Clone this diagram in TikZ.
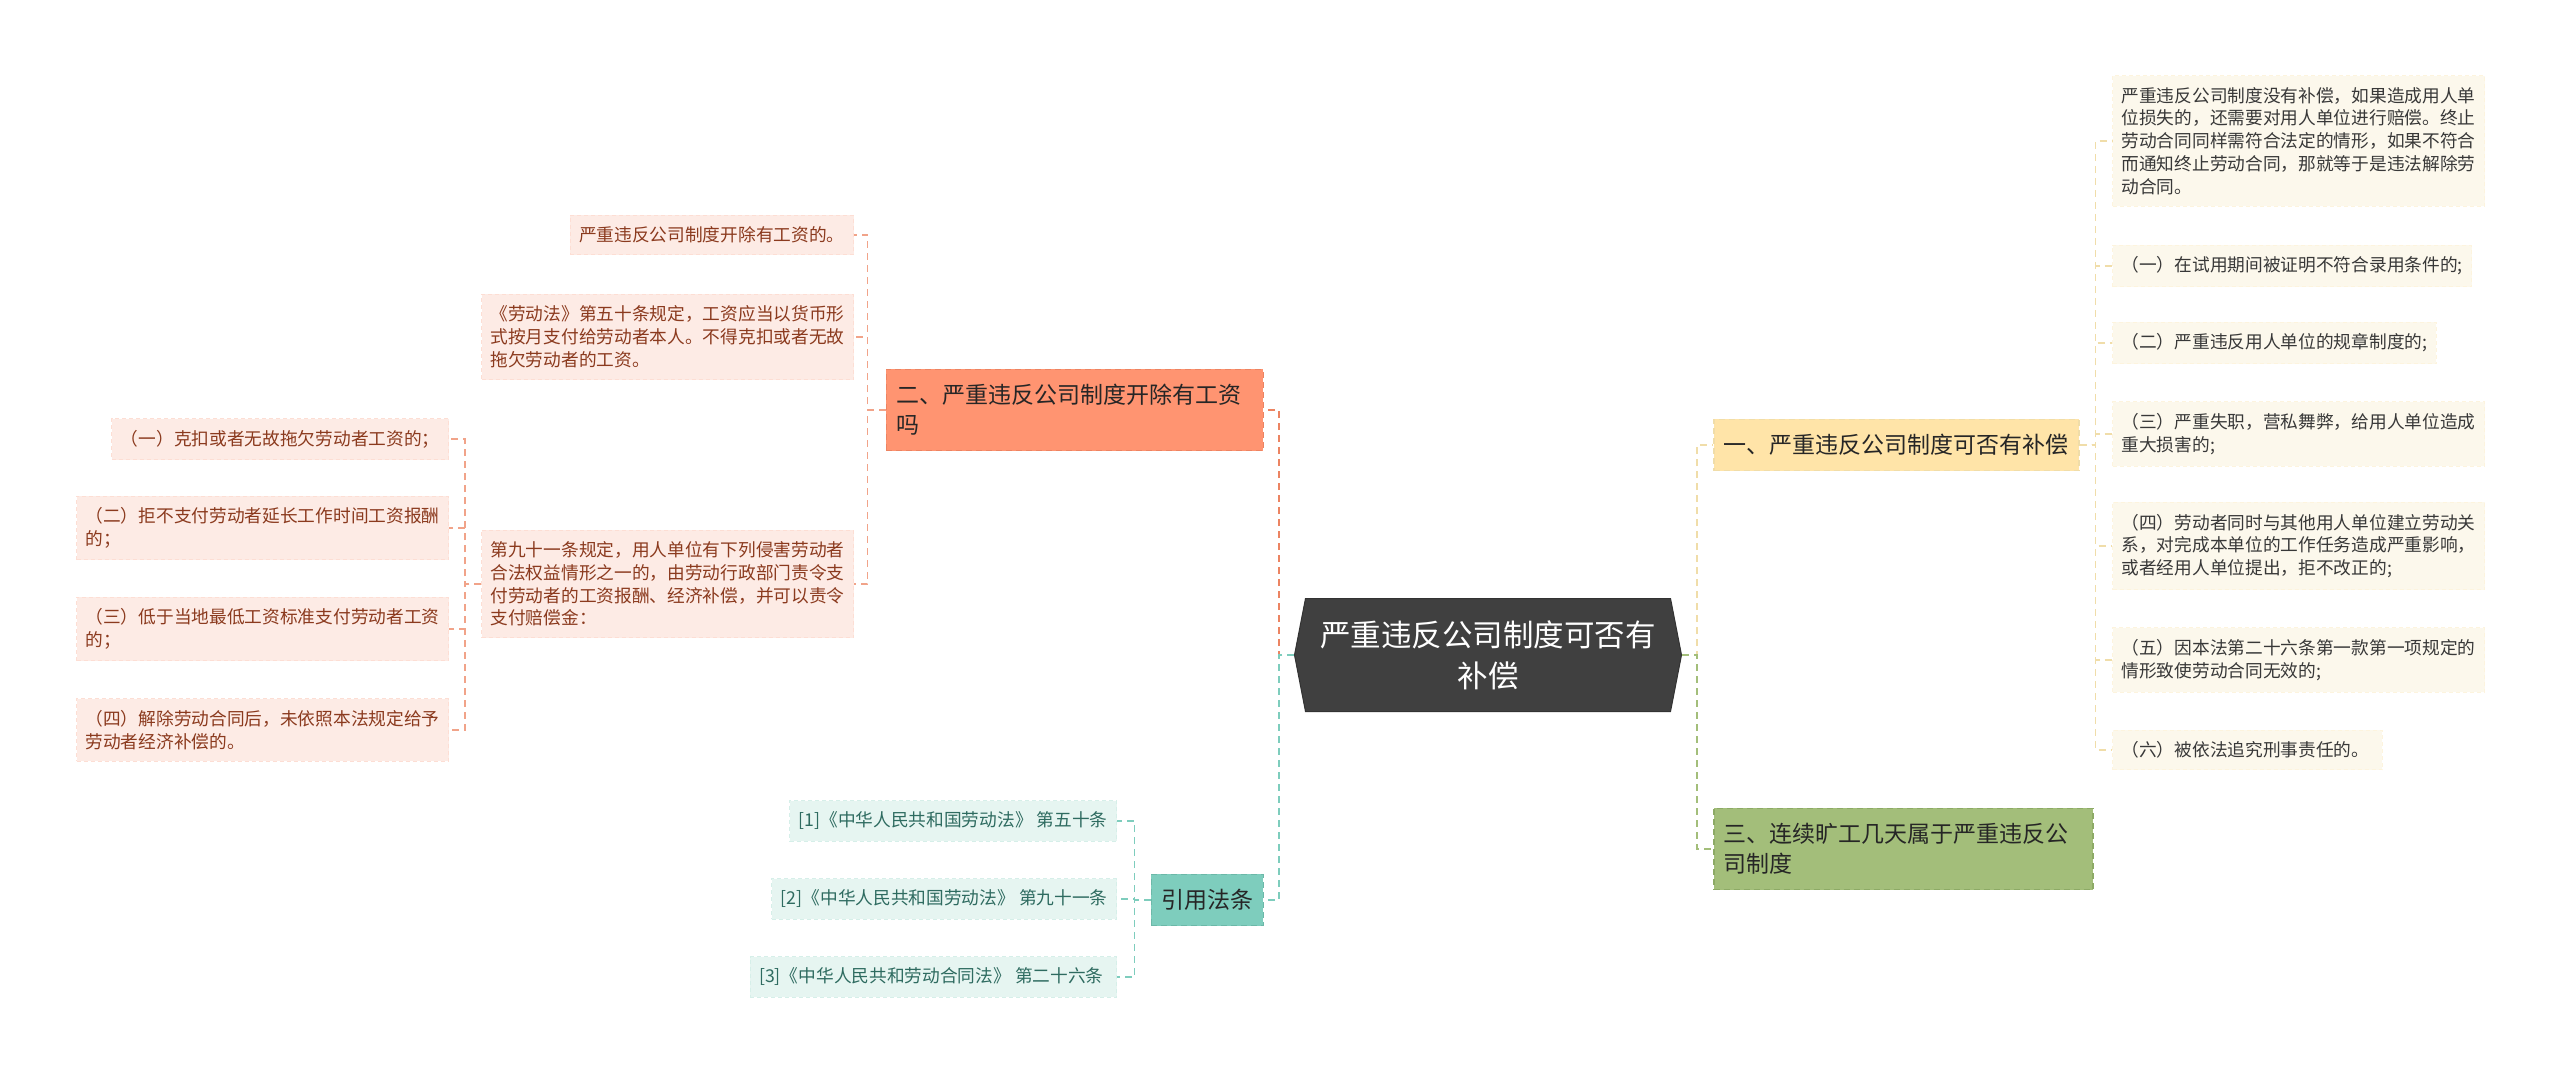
\documentclass[tikz,border=0pt]{standalone}
\usepackage{fontspec}
\setmainfont{Noto Sans CJK SC}
\usetikzlibrary{shapes.symbols}

\definecolor{rootGray}{HTML}{404040}
\definecolor{wageFill}{HTML}{FF9471}
\definecolor{wageLine}{HTML}{EC8462}
\definecolor{wageLeaf}{HTML}{FDEBE5}
\definecolor{wageText}{HTML}{8B3A1E}
\definecolor{compFill}{HTML}{FFE4A8}
\definecolor{compLine}{HTML}{F0DDA9}
\definecolor{compLeaf}{HTML}{FCF8EC}
\definecolor{absFill}{HTML}{A3BE7A}
\definecolor{absLine}{HTML}{8DAA66}
\definecolor{lawFill}{HTML}{7ECDBD}
\definecolor{lawLine}{HTML}{6CB8A8}
\definecolor{lawLeaf}{HTML}{E6F5F1}
\definecolor{lawText}{HTML}{2E6B60}

\def\leafFont{\fontsize{17.7pt}{22.8pt}\selectfont}
\def\branchFont{\fontsize{23pt}{30pt}\selectfont}
\def\rootFont{\fontsize{30.5pt}{41pt}\selectfont}
\def\stub{16}

\begin{document}
\begin{tikzpicture}[
    x=1pt, y=-1pt,
    root/.style={
      signal, signal to=east and west, signal pointer angle=158,
      fill=rootGray, draw=black!80, line width=1pt, text=white,
      font=\rootFont, align=center, minimum width=387pt, minimum height=113pt
    },
    branch/.style={
      font=\branchFont, align=left, inner xsep=10pt, inner ysep=15pt,
      line width=1.5pt, dash pattern=on 6pt off 4pt, text=black!85
    },
    leaf/.style={
      font=\leafFont, align=left, inner xsep=9pt, inner ysep=11.5pt,
      line width=1pt, dash pattern=on 4pt off 3pt
    },
    link/.style={
      line width=1.5pt, dash pattern=on 7pt off 5pt
    }
  ]
    \useasboundingbox (0,0) rectangle (2560,1075);

    \node[root] (root) at (1488,655) {严重违反公司制度可否有\\补偿};

    \node[branch, fill=compFill, draw=compLine, anchor=west] (comp) at (1713,445) {一、严重违反公司制度可否有补偿};
    \node[branch, fill=absFill, draw=absLine, anchor=west, text width=359pt] (abs) at (1713,849) {三、连续旷工几天属于严重违反公\\司制度};
    \node[branch, fill=wageFill, draw=wageLine, anchor=east, text width=357pt] (wage) at (1264,410) {二、严重违反公司制度开除有工资\\吗};
    \node[branch, fill=lawFill, draw=lawLine, anchor=east] (law) at (1264,900) {引用法条};

    \draw[link, draw=wageLine] (root.west) -- ++(-15,0) |- (wage.east);
    \draw[link, draw=lawFill] (root.west) -- ++(-15,0) |- (law.east);
    \draw[link, draw=compLine] (root.east) -- ++(15,0) |- (comp.west);
    \draw[link, draw=absFill] (root.east) -- ++(15,0) |- (abs.west);

    \def\compLeaves{
      141/严重违反公司制度没有补偿，如果造成用人单\\位损失的，还需要对用人单位进行赔偿。终止\\劳动合同同样需符合法定的情形，如果不符合\\而通知终止劳动合同，那就等于是违法解除劳\\动合同。,
      266/（一）在试用期间被证明不符合录用条件的;,
      343/（二）严重违反用人单位的规章制度的;,
      434/（三）严重失职，营私舞弊，给用人单位造成\\重大损害的;,
      546/（四）劳动者同时与其他用人单位建立劳动关\\系，对完成本单位的工作任务造成严重影响，\\或者经用人单位提出，拒不改正的;,
      660/（五）因本法第二十六条第一款第一项规定的\\情形致使劳动合同无效的;,
      750/（六）被依法追究刑事责任的。
    }

    \foreach \y / \txt [count=\i] in \compLeaves {
      \node[leaf, fill=compLeaf, draw=compLeaf!80!compFill, text=black!78, anchor=west] (c\i) at (2112,\y) {\txt};
      \draw[link, line width=1.2pt, draw=compLine] (comp.east) -- ++(\stub,0) |- (c\i.west);
    }

    \def\wageLeaves{
      235/严重违反公司制度开除有工资的。,
      337/《劳动法》第五十条规定，工资应当以货币形\\式按月支付给劳动者本人。不得克扣或者无故\\拖欠劳动者的工资。,
      584/第九十一条规定，用人单位有下列侵害劳动者\\合法权益情形之一的，由劳动行政部门责令支\\付劳动者的工资报酬、经济补偿，并可以责令\\支付赔偿金：
    }

    \foreach \y / \txt [count=\i] in \wageLeaves {
      \node[leaf, fill=wageLeaf, draw=wageLeaf!85!wageFill, text=wageText, anchor=east] (w\i) at (854,\y) {\txt};
      \draw[link, line width=1.2pt, draw=wageLine!75] (wage.west) -- ++(-18,0) |- (w\i.east);
    }

    \def\articleLeaves{
      439/（一）克扣或者无故拖欠劳动者工资的；,
      528/（二）拒不支付劳动者延长工作时间工资报酬\\的；,
      629/（三）低于当地最低工资标准支付劳动者工资\\的；,
      730/（四）解除劳动合同后，未依照本法规定给予\\劳动者经济补偿的。
    }

    \foreach \y / \txt [count=\i] in \articleLeaves {
      \node[leaf, fill=wageLeaf, draw=wageLeaf!85!wageFill, text=wageText, anchor=east] (a\i) at (449,\y) {\txt};
      \draw[link, line width=1.2pt, draw=wageLine!75] (w3.west) -- ++(-\stub,0) |- (a\i.east);
    }

    \def\lawLeaves{
      821/[1]《中华人民共和国劳动法》 第五十条,
      899/[2]《中华人民共和国劳动法》 第九十一条,
      977/[3]《中华人民共和劳动合同法》 第二十六条
    }

    \foreach \y / \txt [count=\i] in \lawLeaves {
      \node[leaf, fill=lawLeaf, draw=lawLeaf!85!lawFill, text=lawText, anchor=east] (f\i) at (1117,\y) {\txt};
      \draw[link, line width=1.2pt, draw=lawFill] (law.west) -- ++(-\stub,0) |- (f\i.east);
    }
  \end{tikzpicture}
\end{document}
